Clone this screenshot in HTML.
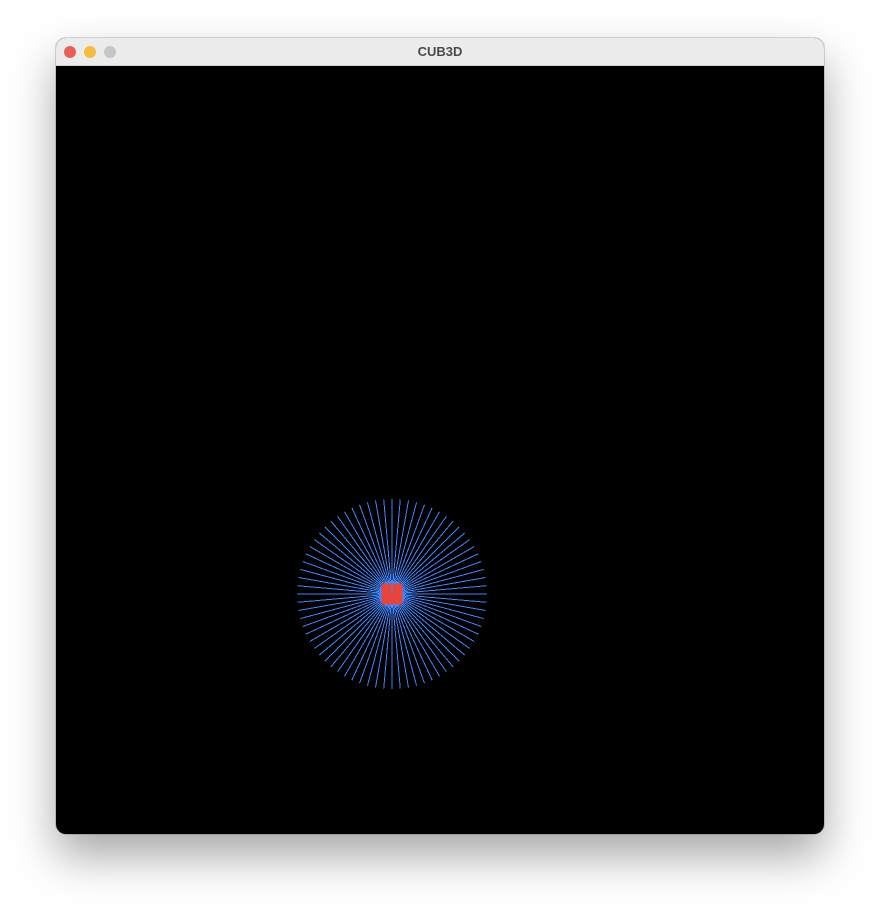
<!DOCTYPE html>
<html><head><meta charset="utf-8"><style>
html,body{margin:0;padding:0;background:#fff;width:880px;height:908px;overflow:hidden;font-family:"Liberation Sans",sans-serif}
#win{position:absolute;left:56px;top:38px;width:768px;height:796px;border-radius:10px;overflow:hidden;box-shadow:0 22px 45px rgba(0,0,0,0.35),0 0 0 1px rgba(0,0,0,0.15);background:#000}
#title{position:absolute;left:0;top:0;width:768px;height:28px;background:#ececec;border-bottom:1px solid #d0d0d0;box-sizing:border-box;text-align:center;line-height:28px;font-size:13px;font-weight:bold;color:#4a4a4a}
.dot{position:absolute;top:8px;width:12px;height:12px;border-radius:50%}
#canvas{position:absolute;left:0;top:28px;shape-rendering:crispEdges}
</style></head><body>
<div id="win">
<div id="title">CUB3D
<div class="dot" style="left:8px;background:#ec5f57"></div>
<div class="dot" style="left:28px;background:#f4bd3f"></div>
<div class="dot" style="left:48px;background:#c6c6c6"></div>
</div>
<svg id="canvas" width="768" height="768"></svg>
</div>
<script>
const rayAngles=[0,5,10,15,20,25,30,35,40,45,50,55,60,65,70,75,80,85,90,95,100,105,110,115,120,125,130,135,140,145,150,155,160,165,170,175,180,185,190,195,200,205,210,215,220,225,230,235,240,245,250,255,260,265,270,275,280,285,290,295,300,305,310,315,320,325,330,335,340,345,350,355];
const rayLengths=rayAngles.map(()=>95);
const player={x:336,y:528,size:21};
const NS="http://www.w3.org/2000/svg";
const svg=document.getElementById('canvas');
rayAngles.forEach((a,i)=>{
  const r=a*Math.PI/180;
  const l=document.createElementNS(NS,'line');
  l.setAttribute('x1',player.x);l.setAttribute('y1',player.y);
  l.setAttribute('x2',player.x+Math.cos(r)*rayLengths[i]);
  l.setAttribute('y2',player.y+Math.sin(r)*rayLengths[i]);
  l.setAttribute('stroke','#3f86ff');l.setAttribute('stroke-width','1');
  
  
  svg.appendChild(l);
});
const p=document.createElementNS(NS,'rect');
p.setAttribute('x',player.x-player.size/2);p.setAttribute('y',player.y-player.size/2);
p.setAttribute('width',player.size);p.setAttribute('height',player.size);p.setAttribute('fill','#e8443a');


svg.appendChild(p);
const d=document.createElementNS(NS,'line');
d.setAttribute('x1',player.x);d.setAttribute('y1',player.y);d.setAttribute('x2',player.x);d.setAttribute('y2',player.y-10);
d.setAttribute('stroke','#3f86ff');


svg.appendChild(d);
</script>
</body></html>
